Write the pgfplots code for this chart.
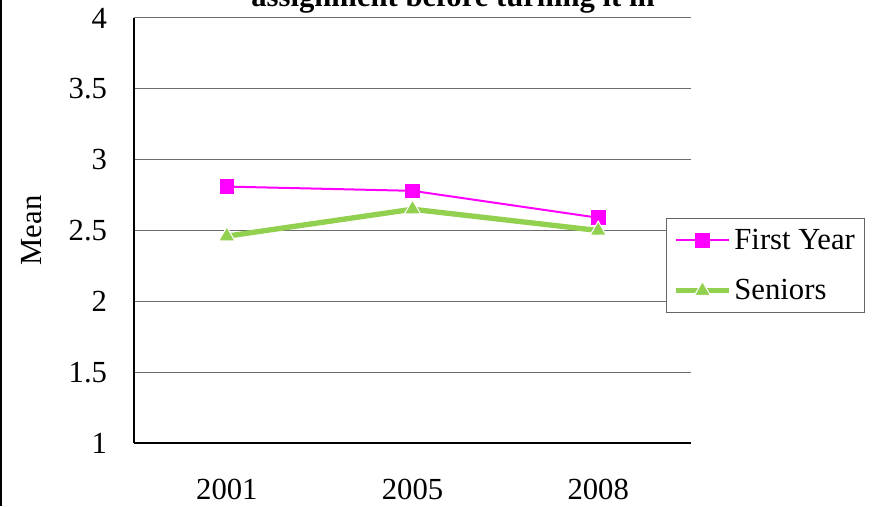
\documentclass[border=0pt]{standalone}
\usepackage{fontspec}
\setmainfont{Liberation Serif}
\usepackage{pgfplots}
\pgfplotsset{compat=1.18}
\definecolor{fy}{RGB}{255,0,255}
\definecolor{sn}{RGB}{146,208,80}
\begin{document}
\begin{tikzpicture}
\useasboundingbox (0,0) rectangle (654.75pt,379.5pt);
\clip (0,0) rectangle (654.75pt,379.5pt);
\fill[white] (0,0) rectangle (654.75pt,379.5pt);
\begin{axis}[
  at={(100.5pt,47.25pt)}, anchor=south west,
  scale only axis, width=417.75pt, height=318.75pt,
  xmin=-0.5, xmax=2.5, ymin=1, ymax=4,
  xtick={0,1,2}, xticklabels={2001,2005,2008},
  ytick={1,1.5,2,2.5,3,3.5,4},
  yticklabels={1,1.5,2,2.5,3,3.5,4},
  axis x line*=bottom, axis y line*=left,
  axis line style={black, line width=0.9pt, -},
  major tick length=0pt,
  ymajorgrids, grid style={gray!85!black, line width=0.75pt},
  font=\fontsize{23}{27}\selectfont,
  /pgf/number format/assume math mode=true,
  yticklabel style={inner sep=0pt, anchor=east, xshift=-20pt},
  xticklabel style={inner sep=0pt, anchor=north, yshift=-27pt},
  ylabel={Mean},
  ylabel style={at={(axis description cs:-0.183,0.5)}, anchor=center, inner sep=0pt},
  legend style={at={(axis description cs:0.955,0.529)}, anchor=north west,
    draw=gray!80!black, line width=0.75pt, inner xsep=5pt, inner ysep=6pt,
    font=\fontsize{23}{27}\selectfont, row sep=17pt,
    legend cell align=left,
    /tikz/every odd column/.style={}},
  legend image code/.code={%
    \draw[mark repeat=2,mark phase=2,#1] plot coordinates {(0pt,0pt) (20pt,0pt) (40pt,0pt)};},
  clip=false,
]
\addplot[color=fy, line width=1.5pt, mark=square*, mark size=5.2pt,
  mark options={fill=fy, draw=fy, line width=0.5pt}]
  coordinates {(0,2.81) (1,2.78) (2,2.59)};
\addlegendentry{First Year}
\addplot[color=sn, line width=4pt, mark=triangle*, mark size=7pt,
  mark options={fill=sn, draw=white, line width=0.8pt}]
  coordinates {(0,2.46) (1,2.65) (2,2.50)};
\addlegendentry{Seniors}
\end{axis}
\node[anchor=base, font=\fontsize{23}{27}\selectfont\bfseries, inner sep=0pt]
  at (339.75pt,374.25pt) {assignment before turning it in};
\draw[black, line width=1.5pt] (1.1pt,0) -- (1.1pt,379.5pt);
\end{tikzpicture}
\end{document}
